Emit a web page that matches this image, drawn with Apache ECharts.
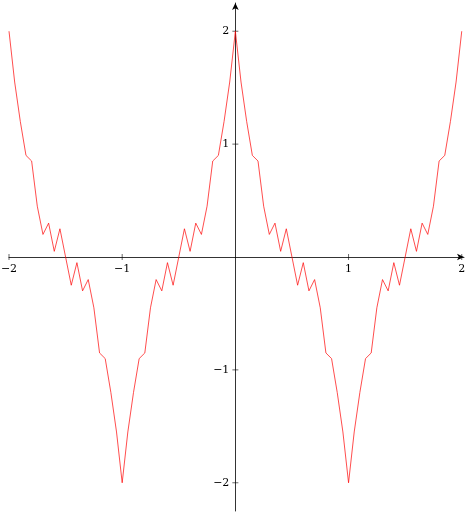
<!DOCTYPE html>
<html><head><meta charset="utf-8">
<script src="https://cdn.jsdelivr.net/npm/echarts@6/dist/echarts.min.js"></script>
<style>html,body{margin:0;padding:0;background:#fff}#main{width:468px;height:515px}</style>
</head><body><div id="main"></div>
<script>
var xStart = -2, xStep = 0.05
var yValues = [
  2,1.55,1.2,0.9,0.85,0.45,0.2,0.3,0.05,0.25,0,-0.25,-0.05,-0.3,-0.2,-0.45,-0.85,-0.9,-1.2,-1.55,-2,
  -1.55,-1.2,-0.9,-0.85,-0.45,-0.2,-0.3,-0.05,-0.25,0,0.25,0.05,0.3,0.2,0.45,0.85,0.9,1.2,1.55,2,
  1.55,1.2,0.9,0.85,0.45,0.2,0.3,0.05,0.25,0,-0.25,-0.05,-0.3,-0.2,-0.45,-0.85,-0.9,-1.2,-1.55,-2,
  -1.55,-1.2,-0.9,-0.85,-0.45,-0.2,-0.3,-0.05,-0.25,0,0.25,0.05,0.3,0.2,0.45,0.85,0.9,1.2,1.55,2
]
var tickValues = [-2, -1, 1, 2]
var tickLabels = ['−2', '−1', '1', '2']

var pts = yValues.map(function (v, i) { return [+(xStart + i * xStep).toFixed(3), v] })
var font = {fontFamily: 'DejaVu Serif', fontSize: 11, fill: '#000'}
var axLine = {onZero: true, symbol: ['none', 'arrow'], symbolSize: [5, 7], lineStyle: {color: '#000', width: 0.8}}

var chart = echarts.init(document.getElementById('main'))
chart.setOption({
  animation: false,
  grid: {left: 9, right: 4, top: 3, bottom: 4, outerBoundsMode: 'none', containLabel: false},
  xAxis: {
    type: 'value', min: -2, max: 2.02,
    axisLine: axLine, axisTick: {show: false}, axisLabel: {show: false}, splitLine: {show: false}
  },
  yAxis: {
    type: 'value', min: -2.25, max: 2.25,
    axisLine: axLine, axisTick: {show: false}, axisLabel: {show: false}, splitLine: {show: false}
  },
  series: [{
    type: 'line', data: pts, showSymbol: false,
    lineStyle: {color: '#ff0000', width: 0.7}
  }]
})

// ticks and labels drawn at the zero lines
var g = []
tickValues.forEach(function (v, i) {
  var px = chart.convertToPixel({gridIndex: 0}, [v, 0])
  var py = chart.convertToPixel({gridIndex: 0}, [0, v])
  g.push({type: 'line', shape: {x1: px[0], y1: px[1] - 3, x2: px[0], y2: px[1] + 3}, style: {stroke: '#000', lineWidth: 0.6}})
  g.push({type: 'text', x: px[0], y: px[1] + 7, style: Object.assign({text: tickLabels[i], align: 'center', verticalAlign: 'top'}, font)})
  g.push({type: 'line', shape: {x1: py[0] - 3, y1: py[1], x2: py[0] + 3, y2: py[1]}, style: {stroke: '#000', lineWidth: 0.6}})
  g.push({type: 'text', x: py[0] - 6, y: py[1], style: Object.assign({text: tickLabels[i], align: 'right', verticalAlign: 'middle'}, font)})
})
chart.setOption({graphic: g})
</script></body></html>
